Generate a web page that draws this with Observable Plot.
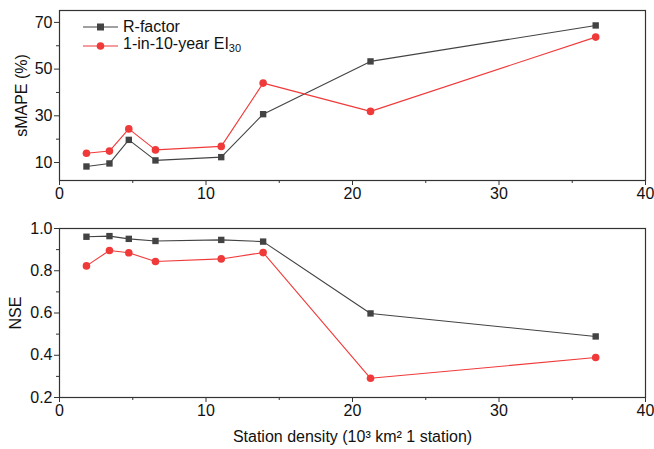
<!DOCTYPE html>
<html>
<head>
<meta charset="utf-8">
<script src="https://cdn.jsdelivr.net/npm/d3@7"></script>
<script src="https://cdn.jsdelivr.net/npm/@observablehq/plot@0.6"></script>
<style>
  body { margin:0; background:#fff; font-family: Arial, "Liberation Sans", sans-serif; }
  #wrap { position:relative; width:654px; height:449px; }
  #top, #bottom { position:absolute; left:0; }
  #top { top:0; } #bottom { top:210px; }
  #legend { position:absolute; left:83px; top:18px; font-size:16px; color:#111; line-height:18.6px; }
  #legend div { display:flex; align-items:center; height:18.6px; }
  #legend svg { margin-right:4px; }
  #legend sub { font-size:11px; vertical-align:-3px; }
</style>
</head>
<body>
<div id="wrap">
  <div id="top"></div>
  <div id="bottom"></div>
  <div id="legend"></div>
</div>
<script>
const density = [1.84, 3.41, 4.73, 6.55, 11.04, 13.9, 21.23, 36.6];
const smapeR = [8.3, 9.6, 19.7, 10.9, 12.3, 30.7, 53.3, 68.7];
const smapeEI = [14.0, 14.9, 24.4, 15.4, 16.9, 44.0, 31.9, 63.7];
const nseR = [0.961, 0.964, 0.951, 0.941, 0.946, 0.938, 0.598, 0.489];
const nseEI = [0.823, 0.896, 0.885, 0.844, 0.856, 0.886, 0.291, 0.389];
const seriesNames = ["R-factor", "1-in-10-year EI30"];
const xTicks = [0, 10, 20, 30, 40];
const xMinor = [5, 15, 25, 35];
const smapeTicks = [10, 30, 50, 70];
const smapeMinor = [20, 40, 60];
const nseTicks = [0.2, 0.4, 0.6, 0.8, 1.0];
const nseMinor = [0.3, 0.5, 0.7, 0.9];

const GRAY = "#434343", RED = "#f03a3a";
const font = 'Arial, "Liberation Sans", sans-serif';

function rows(a, b) {
  return density.flatMap((d, i) => [
    {x: d, y: a[i], s: seriesNames[0]},
    {x: d, y: b[i], s: seriesNames[1]}
  ]);
}

function panel({data, yDomain, yTicks, yMinor, yLabel, yLabelOffset, height, marginTop, marginBottom, xLabel, fmt}) {
  const R = data.filter(d => d.s === seriesNames[0]);
  const E = data.filter(d => d.s === seriesNames[1]);
  return Plot.plot({
    width: 654, height, marginLeft: 59, marginRight: 9, marginTop, marginBottom,
    style: {fontFamily: font, fontSize: "16px", color: "#111", background: "#fff"},
    x: {domain: [0, 40]},
    y: {domain: yDomain},
    marks: [
      Plot.axisX(xMinor, {tickSize: 3, text: null, stroke: "#333", label: null}),
      Plot.axisX(xTicks, {tickSize: 5, stroke: "#333", tickPadding: 2, fontSize: 16,
        label: xLabel, labelAnchor: "center", labelArrow: "none", labelOffset: 44}),
      Plot.axisY(yMinor, {tickSize: 3, text: null, stroke: "#333", label: null}),
      Plot.axisY(yTicks, {tickSize: 5, stroke: "#333", tickPadding: 2, fontSize: 16, tickFormat: fmt,
        label: yLabel, labelAnchor: "center", labelArrow: "none", labelOffset: yLabelOffset}),
      Plot.frame({stroke: "#333", strokeWidth: 1.2}),
      Plot.line(R, {x: "x", y: "y", stroke: GRAY, strokeWidth: 1.1}),
      Plot.line(E, {x: "x", y: "y", stroke: RED, strokeWidth: 1.1}),
      Plot.dot(R, {x: "x", y: "y", symbol: "square", r: 3.6, fill: GRAY}),
      Plot.dot(E, {x: "x", y: "y", symbol: "circle", r: 3.8, fill: RED})
    ]
  });
}

document.getElementById("top").appendChild(panel({
  data: rows(smapeR, smapeEI), yDomain: [2.3, 75.1], yTicks: smapeTicks, yMinor: smapeMinor,
  yLabel: "sMAPE (%)", yLabelOffset: 44, height: 210, marginTop: 10, marginBottom: 30,
  xLabel: null, fmt: d => d
}));
document.getElementById("bottom").appendChild(panel({
  data: rows(nseR, nseEI), yDomain: [0.2, 1.0], yTicks: nseTicks, yMinor: nseMinor,
  yLabel: "NSE", yLabelOffset: 50, height: 239, marginTop: 18, marginBottom: 52,
  xLabel: "Station density (10³ km² 1 station)", fmt: d3.format(".1f")
}));

// legend
const leg = document.getElementById("legend");
const items = [
  {name: "R-factor", color: GRAY, sym: "square"},
  {name: "1-in-10-year EI<sub>30</sub>", color: RED, sym: "circle"}
];
for (const it of items) {
  const row = document.createElement("div");
  const marker = it.sym === "square"
    ? `<rect x="14" y="4.5" width="7" height="7" fill="${it.color}"/>`
    : `<circle cx="17.5" cy="8" r="3.8" fill="${it.color}"/>`;
  row.innerHTML = `<svg width="36" height="16"><line x1="0" x2="35" y1="8" y2="8" stroke="${it.color}" stroke-width="1.1"/>${marker}</svg><span>${it.name}</span>`;
  leg.appendChild(row);
}
</script>
</body>
</html>
